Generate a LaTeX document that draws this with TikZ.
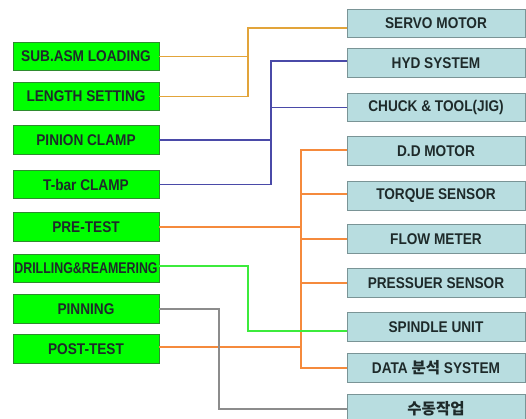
\documentclass[tikz,border=0pt]{standalone}
\usepackage{fontspec}
\setmainfont{Liberation Sans}
\newfontfamily\lab{Liberation Sans}[FakeStretch=0.88]
\newfontfamily\labn{Liberation Sans}[FakeStretch=0.8]
\newfontfamily\kr{Noto Sans CJK KR}
\definecolor{gfill}{HTML}{00FF00}
\definecolor{gdraw}{HTML}{2E8B2E}
\definecolor{bfill}{HTML}{B8DDE0}
\definecolor{bdraw}{HTML}{7A9496}
\definecolor{txt}{HTML}{1E2A2A}
\definecolor{cyel}{HTML}{E2A43A}
\definecolor{cblu}{HTML}{4A4AA8}
\definecolor{cora}{HTML}{F58A3C}
\definecolor{cgrn}{HTML}{3CEB3C}
\definecolor{cgry}{HTML}{8C8C8C}
\begin{document}
\begin{tikzpicture}[x=1pt,y=-1pt,
  lbox/.style={draw=gdraw,fill=gfill,line width=0.9pt,minimum width=146pt,minimum height=28.5pt,inner sep=0pt,font=\lab\bfseries\fontsize{15.5}{16}\selectfont,text=txt},
  rbox/.style={draw=bdraw,fill=bfill,line width=0.9pt,minimum width=178pt,minimum height=28.5pt,inner sep=0pt,font=\lab\bfseries\fontsize{15.5}{16}\selectfont,text=txt},
  conn/.style={line width=1.6pt}]
\useasboundingbox (0,0) rectangle (526,419);
\begin{scope}
\clip (0,0) rectangle (526,419);
% left boxes
\node[lbox] (sub) at (86,56.5) {SUB.ASM LOADING};
\node[lbox] (len) at (86,96.5) {LENGTH SETTING};
\node[lbox] (pin) at (86,140) {PINION CLAMP};
\node[lbox] (tbar) at (86,184.5) {T-bar CLAMP};
\node[lbox] (pre) at (86,227) {PRE-TEST};
\node[lbox,font=\labn\bfseries\fontsize{15.5}{16}\selectfont] (dri) at (86,268.5) {DRILLING\&REAMERING};
\node[lbox] (pinn) at (86,309) {PINNING};
\node[lbox] (post) at (86,349) {POST-TEST};
% right boxes
\node[rbox] (servo) at (436,23.5) {SERVO MOTOR};
\node[rbox] (hyd) at (436,63) {HYD SYSTEM};
\node[rbox] (chuck) at (436,107.5) {CHUCK \& TOOL(JIG)};
\node[rbox] (dd) at (436,151) {D.D MOTOR};
\node[rbox] (torq) at (436,196) {TORQUE SENSOR};
\node[rbox] (flow) at (436,239) {FLOW METER};
\node[rbox] (press) at (436,283) {PRESSUER SENSOR};
\node[rbox] (spin) at (436,327) {SPINDLE UNIT};
\node[rbox] (data) at (436,368) {DATA {\kr\bfseries 분석} SYSTEM};
\node[rbox] (manual) at (436,409) {\kr\bfseries 수동작업};
% junction coordinates
\coordinate (ytop) at (248,28);
\coordinate (btop) at (271,61);
\coordinate (otop) at (301,150);
\coordinate (otq) at (301,194);
\coordinate (gcor) at (248,331);
\coordinate (hcor) at (219,409);
% yellow
\draw[conn,cyel] (sub.east) -- (sub.east -| ytop);
\draw[conn,cyel] (len.east) -| (ytop) -- (servo.west |- ytop);
% blue
\draw[conn,cblu] (hyd.west |- btop) -- (btop) |- (tbar.east);
\draw[conn,cblu] (pin.east) -- (pin.east -| btop);
\draw[conn,cblu] (btop |- chuck.west) -- (chuck.west);
% orange
\draw[conn,cora] (dd.west |- otop) -- (otop) |- (data.west);
\draw[conn,cora] (otq) -- (torq.west |- otq);
\draw[conn,cora] (otop |- flow.west) -- (flow.west);
\draw[conn,cora] (otop |- press.west) -- (press.west);
\draw[conn,cora] (pre.east) -- (pre.east -| otop);
\draw[conn,cora] ([yshift=2pt]post.east) -- ([yshift=2pt]post.east -| otop);
% green
\draw[conn,cgrn] ([yshift=2.5pt]dri.east) -| (gcor) -- (spin.west |- gcor);
% gray
\draw[conn,cgry] (pinn.east) -| (hcor) -- (manual.west |- hcor);
\end{scope}
\end{tikzpicture}
\end{document}
